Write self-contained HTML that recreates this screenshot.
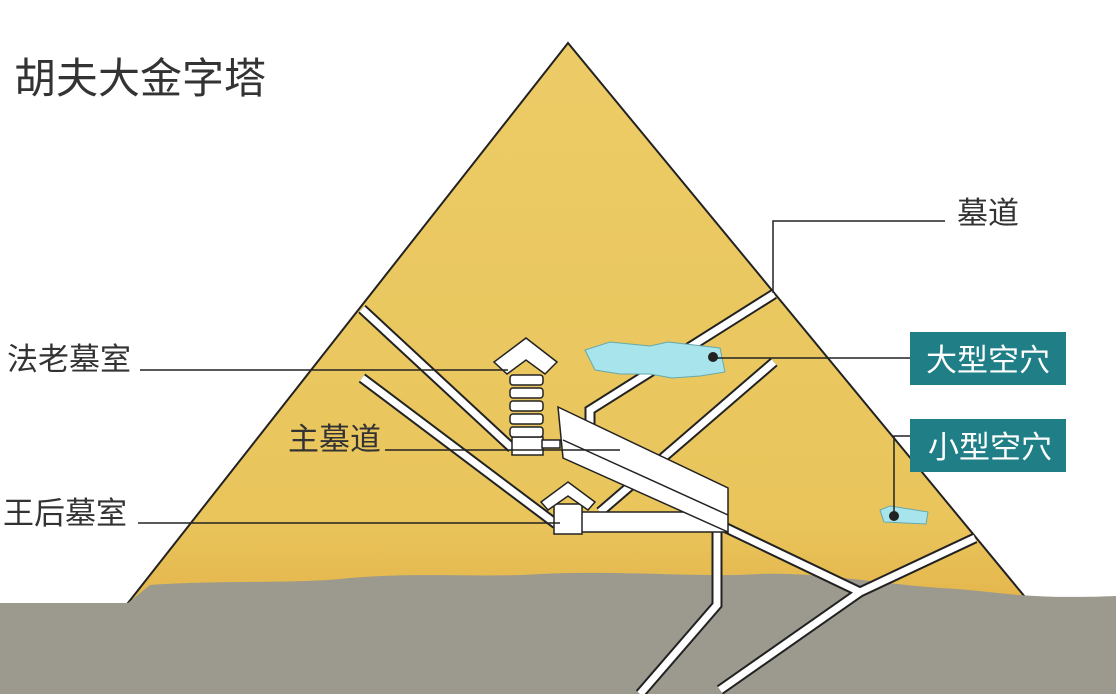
<!DOCTYPE html>
<html><head><meta charset="utf-8"><style>
html,body{margin:0;padding:0;background:#fff;}
svg{display:block}
text{font-family:"Liberation Sans","Noto Sans CJK SC",sans-serif;}
</style></head><body>
<svg width="1116" height="694" viewBox="0 0 1116 694" xmlns="http://www.w3.org/2000/svg">
<defs>
<linearGradient id="py" x1="0" y1="0" x2="0" y2="1">
<stop offset="0" stop-color="#eccb66"/><stop offset="0.85" stop-color="#e9c55c"/><stop offset="1" stop-color="#e4b64c"/>
</linearGradient>
</defs>
<rect width="1116" height="694" fill="#fff"/>
<polygon points="568,43 128,603 1030,603" fill="url(#py)" stroke="#222" stroke-width="2"/>
<path d="M0,603 L128,603 L150,585 C220,580 300,584 350,578 C420,572 480,578 540,574 C620,570 700,578 760,574 C820,572 880,584 940,588 C990,590 1020,600 1116,596 L1116,694 L0,694 Z" fill="#9c998e"/>
<g stroke-linejoin="miter" fill="none">
<g stroke="#222" stroke-width="11">
<polyline points="362,309 512,448"/>
<polyline points="362,378 556,524"/>
<polyline points="774,294 590,410 590,425"/>
<polyline points="774,362 600,512"/>
<polyline points="720,525 860,592 975,538"/>
<polyline points="860,592 720,690"/>
<polyline points="717,530 717,605 640,694"/>
</g>
<g stroke="#fff" stroke-width="7">
<polyline points="362,309 512,448"/>
<polyline points="362,378 556,524"/>
<polyline points="774,294 590,410 590,425"/>
<polyline points="774,362 600,512"/>
<polyline points="720,525 860,592 975,538"/>
<polyline points="860,592 720,690"/>
<polyline points="717,530 717,605 640,694"/>
</g>
</g>
<g stroke="#222" stroke-width="1.5" fill="#fff">
<polygon points="580,512 727,512 727,532 580,532"/>
<polygon points="558,407 728,488 728,532 563,458"/>
<line x1="563" y1="440" x2="728" y2="515"/>
<rect x="512" y="437" width="31" height="18"/>
<rect x="542" y="440" width="18" height="8"/>
<rect x="510" y="375" width="33" height="10" rx="3"/>
<rect x="510" y="388" width="33" height="10" rx="3"/>
<rect x="510" y="401" width="33" height="10" rx="3"/>
<rect x="510" y="414" width="33" height="10" rx="3"/>
<rect x="510" y="427" width="33" height="10" rx="3"/>
<polygon points="526,338 557,362 545,374 526,360 507,374 494,362"/>
<rect x="554" y="504" width="28" height="30"/>
<polygon points="568,482 595,502 588,510 568,496 548,510 541,502"/>
</g>
<path d="M585,350 L610,342 L650,346 L668,342 L720,348 L725,372 L700,376 L672,378 L650,374 L620,374 L595,370 Z" fill="#a8e4ec" stroke="#6aa" stroke-width="1"/>
<path d="M880,510 L890,506 L928,512 L926,524 L884,522 Z" fill="#a8e4ec" stroke="#6aa" stroke-width="1"/>
<g stroke="#222" stroke-width="1.5" fill="none">
<polyline points="945,221 773,221 773,293"/>
<line x1="140" y1="370" x2="508" y2="370"/>
<line x1="385" y1="450" x2="620" y2="450"/>
<line x1="138" y1="523" x2="560" y2="523"/>
<line x1="714" y1="358" x2="910" y2="358"/>
<polyline points="910,436 894,436 894,516"/>
</g>
<circle cx="713" cy="357" r="5" fill="#222"/>
<circle cx="894" cy="516" r="5" fill="#222"/>
<rect x="910" y="332" width="156" height="53" fill="#1f7e86"/>
<rect x="910" y="419" width="156" height="53" fill="#1f7e86"/>
<text x="988" y="371" font-size="31" fill="#fff" text-anchor="middle">大型空穴</text>
<text x="990" y="458" font-size="31" fill="#fff" text-anchor="middle">小型空穴</text>
<text x="14" y="93" font-size="42" fill="#333">胡夫大金字塔</text>
<text x="957" y="224" font-size="31" fill="#333">墓道</text>
<text x="7" y="370" font-size="31" fill="#333">法老墓室</text>
<text x="288" y="450" font-size="31" fill="#333">主墓道</text>
<text x="3" y="524" font-size="31" fill="#333">王后墓室</text>
</svg>
</body></html>
